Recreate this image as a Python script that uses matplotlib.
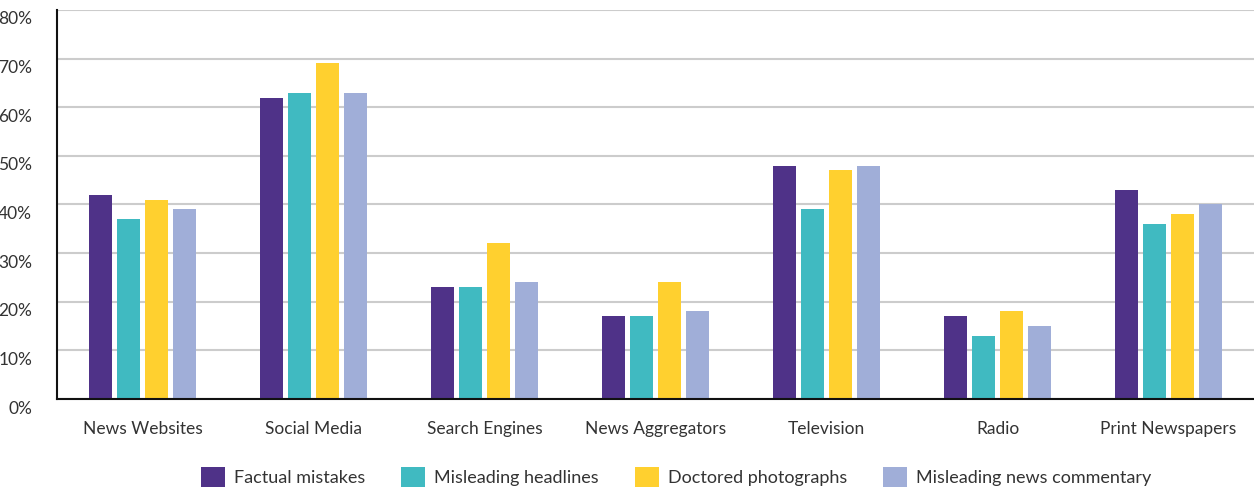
import matplotlib
matplotlib.use("Agg")
import matplotlib.pyplot as plt
import matplotlib.transforms as mtransforms
import numpy as np

categories = ["News Websites", "Social Media", "Search Engines", "News Aggregators",
              "Television", "Radio", "Print Newspapers"]
series_names = ["Factual mistakes", "Misleading headlines", "Doctored photographs",
                "Misleading news commentary"]
factual = [42, 62, 23, 17, 48, 17, 43]
headlines = [37, 63, 23, 17, 39, 13, 36]
photos = [41, 69, 32, 24, 47, 18, 38]
commentary = [39, 63, 24, 18, 48, 15, 40]
yticks = [0, 10, 20, 30, 40, 50, 60, 70, 80]

colors = ["#4F3288", "#40BAC1", "#FFD02F", "#A0AED8"]
plt.rcParams['font.family'] = ['Lato', 'DejaVu Sans']

fig = plt.figure(figsize=(12.54, 4.88), dpi=100)
ax = fig.add_axes([57/1254, 89/488, 1 - 57/1254, 389/488])

x = np.arange(len(categories))
bw = 23/171
step = 28/171
for i, (vals, c, name) in enumerate(zip([factual, headlines, photos, commentary], colors, series_names)):
    ax.bar(x + (i - 1.5) * step, vals, width=bw, color=c, label=name, zorder=3)

ax.set_xlim(-0.5, len(categories) - 0.5)
ax.set_ylim(0, 80)
ax.set_yticks(yticks)
ax.set_yticklabels([f"{v}%" for v in yticks])
ax.set_xticks(x)
ax.set_xticklabels(categories)
ax.tick_params(axis='both', length=0, labelsize=12.5, labelcolor="#333333")
ax.tick_params(axis='y', pad=18)
ax.tick_params(axis='x', pad=16)
offset = mtransforms.ScaledTranslation(0, -8/100, fig.dpi_scale_trans)
for lab in ax.get_yticklabels():
    lab.set_transform(lab.get_transform() + offset)

ax.grid(axis='y', color="#CCCCCC", linewidth=1.5, zorder=0)
for s in ['top', 'right']:
    ax.spines[s].set_visible(False)
ax.spines['left'].set_color("#111111")
ax.spines['left'].set_linewidth(1.5)
ax.spines['bottom'].set_color("#111111")
ax.spines['bottom'].set_linewidth(1.5)
ax.spines['left'].set_zorder(4)
ax.spines['bottom'].set_zorder(4)

fig.legend(loc='center', bbox_to_anchor=(676/1254, 11/488), ncol=4, frameon=False,
           fontsize=13, handlelength=1.33, handleheight=1.33, handletextpad=0.5,
           columnspacing=2.0, labelcolor="#333333")

fig.savefig("out.png", dpi=100)
